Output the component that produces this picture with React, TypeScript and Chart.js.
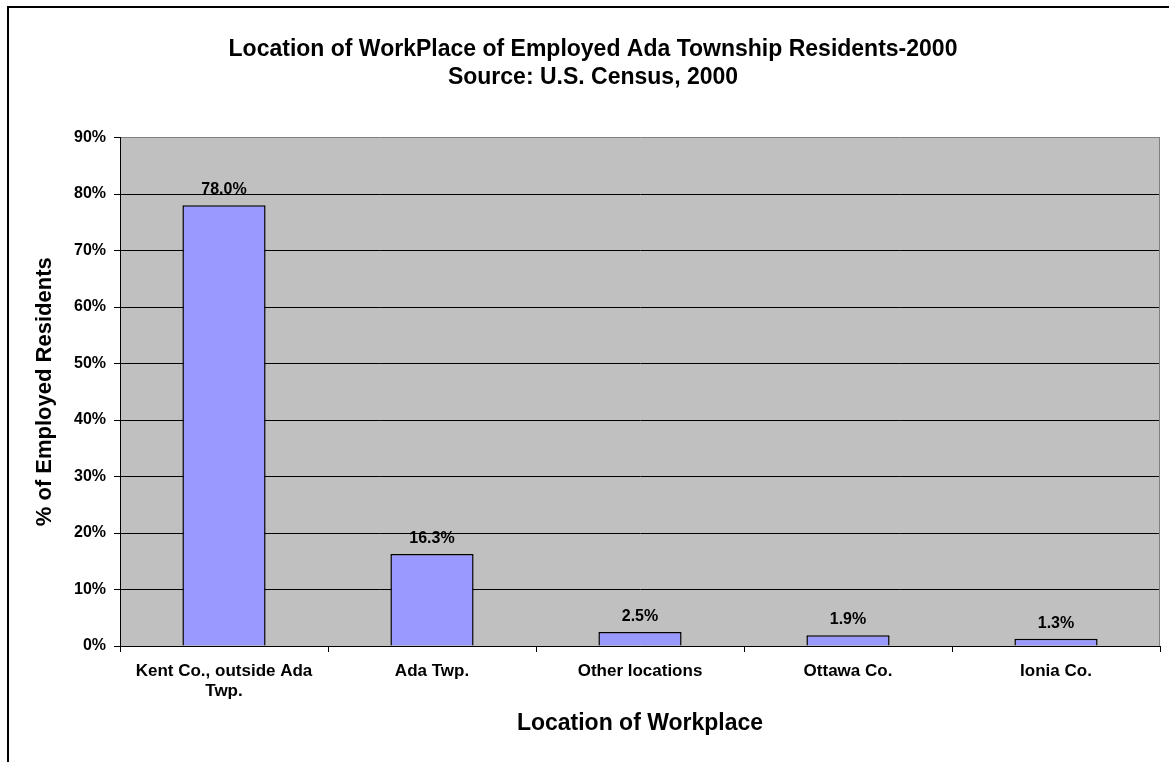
import React, { useEffect, useRef } from "react";
import { Chart, registerables } from "chart.js";

Chart.register(...registerables);

const categories: (string | string[])[] = [
  ["Kent Co., outside Ada", "Twp."],
  "Ada Twp.",
  "Other locations",
  "Ottawa Co.",
  "Ionia Co.",
];
const shares = [78.0, 16.3, 2.5, 1.9, 1.3];
const yTickValues = [0, 10, 20, 30, 40, 50, 60, 70, 80, 90];
const titleLines = [
  "Location of WorkPlace of Employed Ada Township Residents-2000",
  "Source: U.S. Census, 2000",
];
const xTitle = "Location of Workplace";
const yTitle = "% of Employed Residents";

const FONT = "'Liberation Sans', Arial, sans-serif";

const plotBg = {
  id: "plotBg",
  beforeDraw(chart: any) {
    const { ctx, chartArea } = chart;
    ctx.save();
    ctx.fillStyle = "#C0C0C0";
    ctx.fillRect(chartArea.left, chartArea.top, chartArea.right - chartArea.left, chartArea.bottom - chartArea.top);
    ctx.restore();
  },
  beforeDatasetsDraw(chart: any) {
    const { ctx, chartArea } = chart;
    ctx.save();
    ctx.strokeStyle = "#808080";
    ctx.lineWidth = 1;
    ctx.beginPath();
    const x = Math.round(chartArea.right) - 0.5;
    ctx.moveTo(x, chartArea.top);
    ctx.lineTo(x, chartArea.bottom);
    ctx.stroke();
    ctx.restore();
  },
};

const valueLabels = {
  id: "valueLabels",
  afterDatasetsDraw(chart: any) {
    const { ctx } = chart;
    const meta = chart.getDatasetMeta(0);
    ctx.save();
    ctx.fillStyle = "#000";
    ctx.font = `bold 16px ${FONT}`;
    ctx.textAlign = "center";
    ctx.textBaseline = "alphabetic";
    meta.data.forEach((el: any, i: number) => {
      ctx.fillText(shares[i].toFixed(1) + "%", el.x, el.y - 11);
    });
    ctx.restore();
  },
};

export default function App() {
  const ref = useRef<HTMLCanvasElement | null>(null);
  useEffect(() => {
    if (!ref.current) return;
    const chart = new Chart(ref.current, {
      type: "bar",
      data: {
        labels: categories,
        datasets: [
          {
            data: shares,
            backgroundColor: "#9999FF",
            borderColor: "#000000",
            borderWidth: 1.5,
            barPercentage: 0.4,
            categoryPercentage: 1,
          },
        ],
      },
      options: {
        responsive: false,
        animation: false,
        devicePixelRatio: 1,
        layout: { padding: { left: 26, right: 9, top: 0, bottom: 0 } },
        plugins: {
          legend: { display: false },
          tooltip: { enabled: false },
          title: {
            display: true,
            text: titleLines,
            color: "#000",
            font: { family: FONT, size: 23, weight: "bold", lineHeight: "28px" } as any,
            padding: { top: 36, bottom: 45.5 },
          },
        },
        scales: {
          x: {
            afterFit(s: any) {
              s.height = 116;
            },
            grid: {
              display: true,
              drawOnChartArea: false,
              drawTicks: true,
              tickLength: 6,
              tickColor: "#000",
              offset: true,
            },
            border: { display: true, color: "#000", width: 1 },
            ticks: {
              color: "#000",
              padding: 10,
              maxRotation: 0,
              autoSkip: false,
              font: { family: FONT, size: 17, weight: "bold", lineHeight: 1.15 } as any,
            },
            title: {
              display: true,
              text: xTitle,
              color: "#000",
              font: { family: FONT, size: 23, weight: "bold", lineHeight: 1.2 } as any,
              padding: { top: 0, bottom: 25 },
            },
          },
          y: {
            min: 0,
            max: 90,
            afterFit(s: any) {
              s.width = 94;
            },
            afterBuildTicks(s: any) {
              s.ticks = yTickValues.map((v) => ({ value: v }));
            },
            grid: {
              display: true,
              drawOnChartArea: true,
              drawTicks: true,
              tickLength: 6,
              color: (c: any) => (c.tick && c.tick.value === 90 ? "#808080" : "#000"),
              tickColor: "#000",
              lineWidth: 1,
            },
            border: { display: true, color: "#000", width: 1 },
            ticks: {
              color: "#000",
              padding: 8,
              callback: (v: any) => v + "%",
              font: { family: FONT, size: 16, weight: "bold" } as any,
            },
            title: {
              display: true,
              text: yTitle,
              color: "#000",
              font: { family: FONT, size: 22, weight: "bold", lineHeight: 1.2 } as any,
              padding: { top: 6, bottom: 0 },
            },
          },
        },
      },
      plugins: [plotBg, valueLabels],
    });
    return () => chart.destroy();
  }, []);

  return (
    <div style={{ position: "fixed", left: 0, top: 0, width: 1169, height: 762, background: "#fff", overflow: "hidden" }}>
      <canvas ref={ref} width={1169} height={762} style={{ position: "absolute", left: 0, top: 0, width: 1169, height: 762 }} />
      <div style={{ position: "absolute", left: 7, top: 6, width: 1162, height: 2, background: "#000" }} />
      <div style={{ position: "absolute", left: 7, top: 6, width: 2, height: 756, background: "#000" }} />
    </div>
  );
}
